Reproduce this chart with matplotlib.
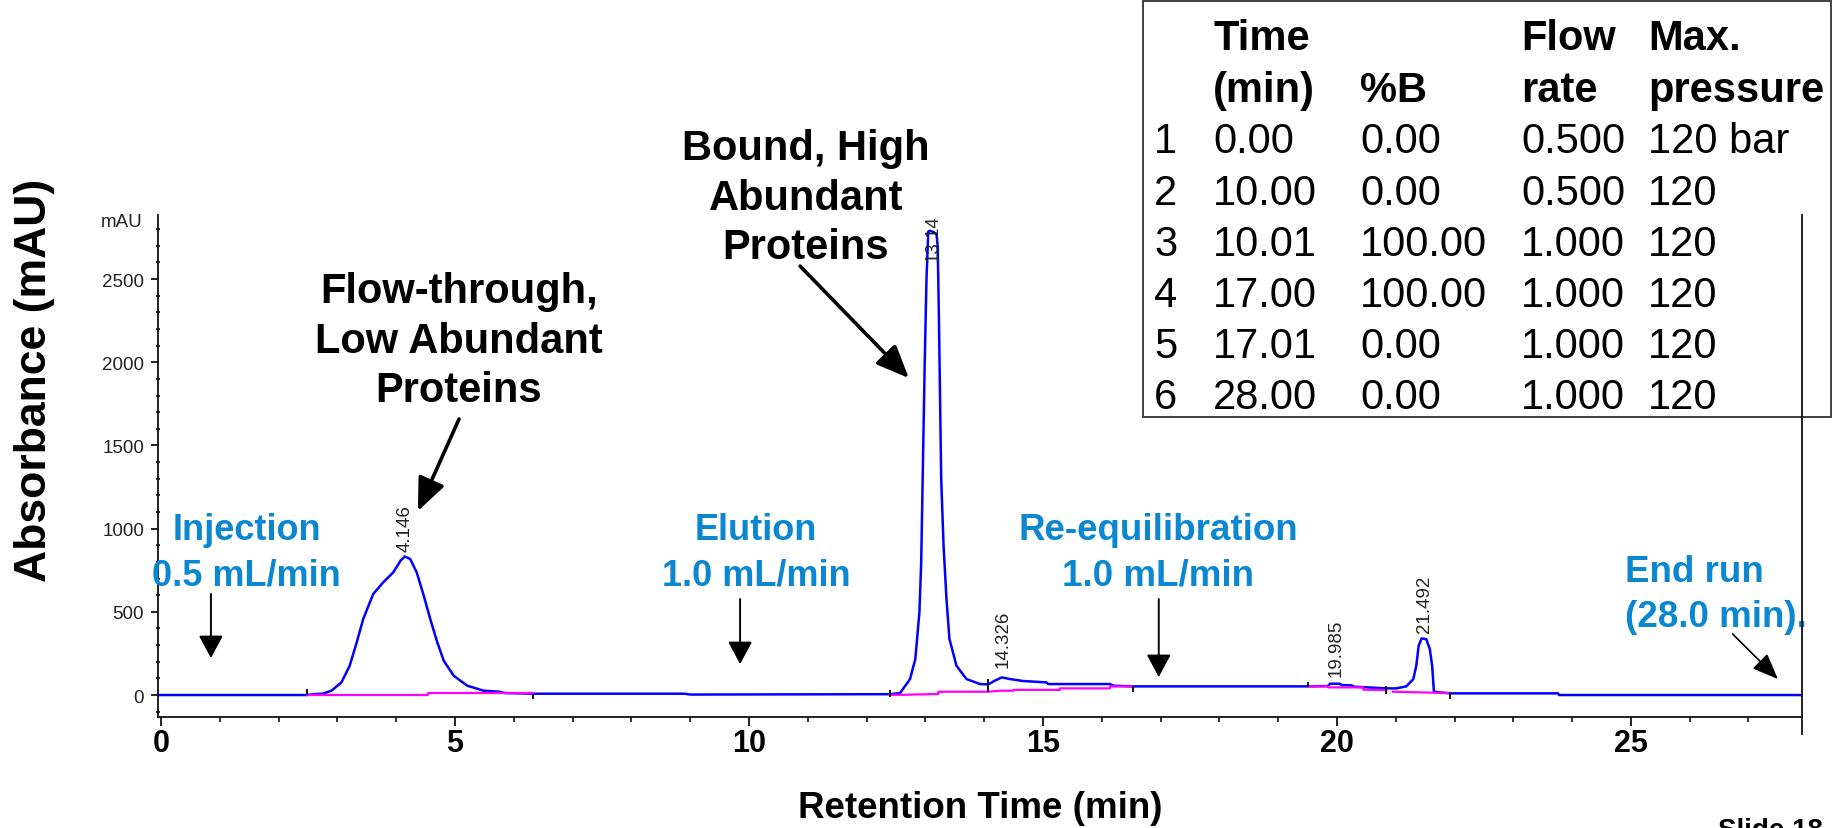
import matplotlib
matplotlib.use("Agg")
import matplotlib.pyplot as plt
from matplotlib.lines import Line2D
from matplotlib.patches import Rectangle
from matplotlib.ticker import MultipleLocator

plt.rcParams['font.family'] = ['Liberation Sans', 'DejaVu Sans']

# ---------------- data ----------------
# chromatogram signal (retention time in min, absorbance in mAU)
signal_t = [-0.05, 2.48, 2.59, 2.75, 2.90, 3.07, 3.21, 3.33, 3.44, 3.61, 3.78, 3.95, 4.08, 4.15,
            4.24, 4.35, 4.47, 4.58, 4.70, 4.81, 4.98, 5.21, 5.49, 5.75, 5.85, 6.33, 8.90, 9.00,
            12.40, 12.57, 12.74, 12.83, 12.90, 12.93, 12.96, 12.99, 13.02, 13.05, 13.08, 13.14,
            13.19, 13.21, 13.23, 13.25, 13.27, 13.31, 13.36, 13.41, 13.53, 13.70, 13.93, 14.07,
            14.18, 14.30, 14.44, 14.67, 15.06, 15.09, 16.14, 16.20, 16.53, 19.51, 19.85, 19.88,
            20.05, 20.08, 20.25, 20.30, 20.84, 21.01, 21.18, 21.30, 21.35, 21.39, 21.44, 21.52,
            21.58, 21.62, 21.65, 21.92, 23.76, 23.78, 27.91]
signal_a = [0, 0, 5, 8, 26, 76, 176, 317, 457, 607, 677, 737, 810, 833,
            817, 737, 597, 457, 317, 206, 116, 56, 26, 20, 12, 8, 8, 3,
            5, 12, 96, 216, 500, 800, 1400, 2000, 2500, 2785, 2790, 2782,
            2770, 2700, 2300, 1800, 1300, 900, 577, 337, 176, 96, 66, 64,
            86, 106, 96, 84, 76, 66, 66, 56, 52, 52, 54, 68,
            68, 60, 58, 50, 40, 40, 52, 96, 176, 296, 340, 336,
            276, 176, 20, 10, 10, 0, 0]

# integration baselines (magenta), one list per segment
base1_t = [2.48, 4.54, 4.54, 6.33]
base1_a = [0, 0, 12, 12]
base2_t = [12.40, 13.22, 13.22, 14.07, 14.27, 14.50, 14.50, 15.29, 15.29, 16.14, 16.14, 16.53]
base2_a = [0, 6, 20, 20, 26, 26, 31, 31, 40, 40, 52, 52]
base3_t = [19.51, 19.85, 19.85, 20.45, 20.45, 20.84]
base3_a = [52, 52, 46, 46, 32, 30]
base4_t = [20.95, 21.64, 21.92]
base4_a = [20, 14, 12]

# integration event marks (time, low, high)
event_t = [2.48, 6.33, 12.40, 14.07, 16.53, 19.51, 20.84, 21.92]
event_lo = [0, -24, -12, 20, 20, 46, 6, -24]
event_hi = [36, 6, 30, 96, 56, 80, 56, 16]

# peak labels
peak_labels = ['4.146', '13.14', '14.326', '19.985', '21.492']
peak_label_base = [865, 2608, 168, 114, 379]

# gradient table
tbl_step = ['1', '2', '3', '4', '5', '6']
tbl_time = ['0.00', '10.00', '10.01', '17.00', '17.01', '28.00']
tbl_pctb = ['0.00', '0.00', '100.00', '100.00', '0.00', '0.00']
tbl_flow = ['0.500', '0.500', '1.000', '1.000', '1.000', '1.000']
tbl_pres = ['120 bar', '120', '120', '120', '120', '120']

x_ticks = [0, 5, 10, 15, 20, 25]
y_ticks = [0, 500, 1000, 1500, 2000, 2500]

# ---------------- figure ----------------
W, H = 1838, 829
fig = plt.figure(figsize=(W / 100, H / 100), dpi=100)
fig.patch.set_facecolor('white')

def fx(px):
    return px / W

def fy(py):
    return 1 - py / H

ax = fig.add_axes([fx(158), fy(718), fx(1802) - fx(158), fy(216) - fy(718)])
ax.set_xlim(-0.05, 27.91)
ax.set_ylim(-132, 2885)

blue = '#0000ff'
mag = '#ff00ff'
ann_blue = '#0b86d1'

ax.plot(signal_t, signal_a, color=blue, lw=1.8, zorder=3)
for bt, ba in [(base1_t, base1_a), (base2_t, base2_a), (base3_t, base3_a), (base4_t, base4_a)]:
    ax.plot(bt, ba, color=mag, lw=1.6, zorder=4)
ax.vlines(event_t, event_lo, event_hi, color='#111111', lw=1.4, zorder=5)

for lab, base in zip(peak_labels, peak_label_base):
    ax.text(float(lab), base, lab, rotation=90, ha='center', va='bottom',
            fontsize=13.5, color='#222222', zorder=6)

# spines / ticks
for s in ['top', 'right']:
    ax.spines[s].set_visible(False)
for s in ['left', 'bottom']:
    ax.spines[s].set_linewidth(1.3)
    ax.spines[s].set_color('#111111')

ax.set_xticks(x_ticks)
ax.set_xticklabels([str(v) for v in x_ticks], fontsize=22, fontweight='bold')
ax.xaxis.set_minor_locator(MultipleLocator(1))
ax.tick_params(axis='x', which='major', length=6.5, width=1.3, pad=1.5, color='#111111')
ax.tick_params(axis='x', which='minor', length=3.5, width=1.2, color='#111111')

ax.set_yticks(y_ticks)
ax.set_yticklabels([str(v) for v in y_ticks], fontsize=13.5, color='#222222')
ax.yaxis.set_minor_locator(MultipleLocator(100))
ax.tick_params(axis='y', which='major', length=5, width=1.3, pad=5, color='#111111')
ax.tick_params(axis='y', which='minor', length=3, width=1.2, direction='inout', color='#111111')

# right vertical line (drawn over the table)
fig.add_artist(Line2D([fx(1802), fx(1802)], [fy(735), fy(216)], color='#111111', lw=1.3,
                      transform=fig.transFigure, zorder=10))

fig.text(fx(143), fy(223), 'mAU', ha='right', va='center', fontsize=13.5, color='#222222')
fig.text(fx(35), fy(380), 'Absorbance (mAU)', rotation=90, ha='center', va='center',
         fontsize=32, fontweight='bold')
fig.text(fx(980), fy(809), 'Retention Time (min)', ha='center', va='center',
         fontsize=26.5, fontweight='bold')
fig.text(fx(1718), fy(818), 'Slide 18', ha='left', va='top', fontsize=20, fontweight='bold')

# ---------------- annotations ----------------
def arrow(xy_text, xy, lw, hl, hw):
    ax.annotate('', xy=xy, xytext=xy_text,
                arrowprops=dict(arrowstyle=f'-|>,head_length={hl},head_width={hw}',
                                color='black', lw=lw, shrinkA=0, shrinkB=0),
                annotation_clip=False, zorder=7)

ax.text(5.07, 2130, 'Flow-through,\nLow Abundant\nProteins', ha='center', va='center',
        fontsize=30, fontweight='bold', linespacing=1.3)
arrow((5.07, 1659), (4.37, 1106), 2.6, 2.0, 0.85)

ax.text(10.97, 2990, 'Bound, High\nAbundant\nProteins', ha='center', va='center',
        fontsize=30, fontweight='bold', linespacing=1.3, clip_on=False)
arrow((10.87, 2578), (12.72, 1905), 2.6, 2.0, 0.85)

ax.text(1.46, 860, 'Injection\n0.5 mL/min', ha='center', va='center', fontsize=26,
        fontweight='bold', color=ann_blue, linespacing=1.38)
arrow((0.85, 607), (0.85, 222), 1.4, 1.4, 0.75)

ax.text(10.12, 860, 'Elution\n1.0 mL/min', ha='center', va='center', fontsize=26,
        fontweight='bold', color=ann_blue, linespacing=1.38)
arrow((9.85, 577), (9.85, 186), 1.4, 1.4, 0.75)

ax.text(16.96, 860, 'Re-equilibration\n1.0 mL/min', ha='center', va='center', fontsize=26.5,
        fontweight='bold', color=ann_blue, linespacing=1.38)
arrow((16.97, 577), (16.97, 108), 1.4, 1.4, 0.75)

ax.text(24.9, 607, 'End run\n(28.0 min).', ha='left', va='center', fontsize=26.5,
        fontweight='bold', color=ann_blue, linespacing=1.38, clip_on=False)
arrow((26.73, 367), (27.5, 96), 1.2, 1.6, 0.65)

# ---------------- gradient table ----------------
fig.add_artist(Rectangle((fx(1143), fy(418)), fx(1831) - fx(1143), fy(2) - fy(418),
                         transform=fig.transFigure, facecolor='white', edgecolor='#333333',
                         lw=1.3, zorder=2))
col_x = [1154, 1213, 1360, 1521, 1648]
hdr_y = [39, 91]
row_y = [142, 194, 245, 296, 347, 398]
tfs = 30
hdr = [('Time', '(min)'), ('', '%B'), ('Flow', 'rate'), ('Max.', 'pressure')]
for j, (h1, h2) in enumerate(hdr):
    fig.text(fx(col_x[j + 1]), fy(hdr_y[0]), h1, ha='left', va='center', fontsize=tfs,
             fontweight='bold', zorder=3)
    fig.text(fx(col_x[j + 1]), fy(hdr_y[1]), h2, ha='left', va='center', fontsize=tfs,
             fontweight='bold', zorder=3)
for i in range(len(tbl_step)):
    for j, col in enumerate([tbl_step, tbl_time, tbl_pctb, tbl_flow, tbl_pres]):
        fig.text(fx(col_x[j]), fy(row_y[i]), col[i], ha='left', va='center', fontsize=tfs,
                 zorder=3)

fig.savefig('out.png', dpi=100, facecolor='white')
